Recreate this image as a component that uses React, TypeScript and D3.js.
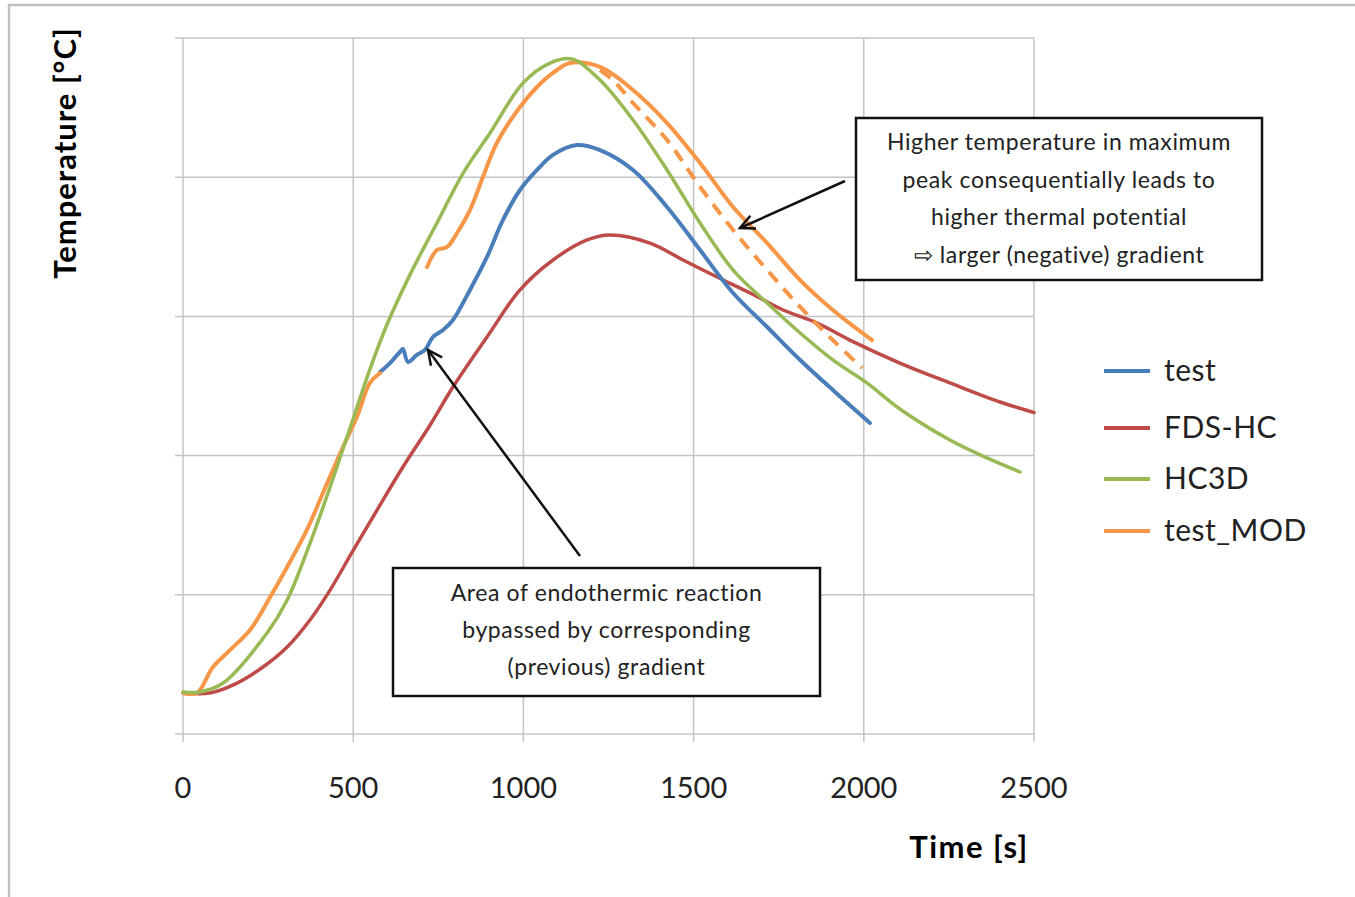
import React, { useEffect, useRef } from "react";
import * as d3 from "d3";

type Pt = [number, number];

// time [s], temperature (no y labels in the source, scale 0-500 assumed)
const testData: Pt[] = [
  [579, 260], [608, 266.5], [637, 274.4], [646, 276.6], [661, 267.2], [687, 272.3],
  [711, 275.9], [734, 285.2], [764, 290.2], [793, 297.4], [843, 319], [893, 342.7],
  [940, 369.3], [990, 390.8], [1040, 405.2], [1087, 416], [1157, 423.1], [1225, 419.5],
  [1322, 405.2], [1422, 378.6], [1519, 347.7], [1616, 316.8], [1716, 292.4],
  [1813, 268.7], [1909, 247.1], [2018, 223.4],
];

const fdsHcData: Pt[] = [
  [0, 29.5], [79, 29.5], [159, 36.6], [235, 48.1], [306, 62.5], [373, 81.9],
  [432, 103.4], [499, 131.5], [570, 160.9], [646, 191.8], [726, 222], [793, 249.3],
  [893, 285.2], [990, 319], [1087, 340.5], [1187, 354.9], [1254, 358.5], [1372, 352.7],
  [1469, 340.5], [1569, 328.3], [1666, 316.8], [1763, 304.6], [1862, 295.3],
  [1959, 283], [2106, 266.5], [2253, 252.2], [2400, 238.5], [2500, 231],
];

const hc3dData: Pt[] = [
  [0, 30.2], [50, 30.2], [118, 36.6], [247, 72.6], [306, 96.3], [373, 137],
  [432, 177.4], [491, 220], [549, 262], [599, 294], [667, 330], [746, 367.1],
  [823, 403], [902, 431.8], [999, 467.7], [1078, 482], [1143, 484.9], [1225, 469.8],
  [1322, 441.1], [1422, 405.2], [1519, 367.1], [1616, 333.3], [1716, 309.6],
  [1813, 288.1], [1909, 268.7], [2009, 252.2], [2106, 233.5], [2253, 211.2],
  [2362, 198.3], [2459, 188.2],
];

const testModEarly: Pt[] = [
  [0, 29.5], [41, 29.5], [88, 48.1], [138, 60.3], [197, 74.7], [256, 98.4],
  [306, 120], [364, 146.6], [411, 173.1], [470, 206.2], [511, 227.7], [549, 252.2],
  [579, 259.3],
];

const testModLate: Pt[] = [
  [717, 335.5], [746, 347.7], [776, 349.9], [805, 359.9], [843, 376.4], [881, 400.1],
  [922, 424.6], [990, 450.4], [1040, 464.8], [1087, 474.9], [1137, 482], [1225, 479.2],
  [1322, 462.6], [1422, 438.9], [1519, 410.2], [1616, 378.6], [1716, 352.7],
  [1813, 326.1], [1909, 304.6], [2024, 283],
];

const testModDashed: Pt[] = [
  [1225, 477], [1263, 469.8], [1322, 453.3], [1422, 426.7], [1519, 393], [1616, 362.1],
  [1716, 333.3], [1813, 306.8], [1909, 283], [1995, 262.9],
];

const xTicks = [0, 500, 1000, 1500, 2000, 2500];
const yTicks = [0, 100, 200, 300, 400, 500];

const seriesNames = ["test", "FDS-HC", "HC3D", "test_MOD"];
const seriesColors = ["#4A7EBB", "#BE4B48", "#98B954", "#F79646"];

const noteHigh = [
  "Higher temperature  in maximum",
  "peak consequentially  leads to",
  "higher thermal potential",
  "\u21E8 larger (negative) gradient",
];
const noteEndo = [
  "Area of endothermic  reaction",
  "bypassed by corresponding",
  "(previous)  gradient",
];

const W = 1355;
const H = 897;
const FONT = "Lato, 'Open Sans', sans-serif";

export default function App() {
  const ref = useRef<SVGSVGElement>(null);

  useEffect(() => {
    const svg = d3.select(ref.current);
    svg.selectAll("*").remove();

    const x = d3.scaleLinear().domain([0, 2500]).range([183, 1034]);
    const y = d3.scaleLinear().domain([0, 500]).range([734, 38]);

    // outer frame (only top/left edges visible)
    svg.append("path")
      .attr("d", "M9,897 V5 H1355")
      .attr("fill", "none")
      .attr("stroke", "#c0c0c0")
      .attr("stroke-width", 2.5);

    const grid = svg.append("g").attr("stroke", "#c4c4c4").attr("stroke-width", 1.5);
    grid.selectAll("line.v")
      .data(xTicks)
      .join("line")
      .attr("x1", (d) => x(d)).attr("x2", (d) => x(d))
      .attr("y1", y(500)).attr("y2", y(0) + 8);
    grid.selectAll("line.h")
      .data(yTicks)
      .join("line")
      .attr("x1", x(0) - 8).attr("x2", x(2500))
      .attr("y1", (d) => y(d)).attr("y2", (d) => y(d));

    svg.append("g")
      .selectAll("text")
      .data(xTicks)
      .join("text")
      .attr("x", (d) => x(d))
      .attr("y", 798)
      .attr("text-anchor", "middle")
      .attr("font-family", FONT)
      .attr("font-size", 29)
      .attr("fill", "#222")
      .text((d) => d);

    const line = d3.line<Pt>()
      .x((d) => x(d[0]))
      .y((d) => y(d[1]))
      .curve(d3.curveCatmullRom.alpha(0.5));

    const draw = (data: Pt[], color: string, width: number, dash?: string) => {
      svg.append("path")
        .datum(data)
        .attr("fill", "none")
        .attr("stroke", color)
        .attr("stroke-width", width)
        .attr("stroke-linecap", dash ? "butt" : "round")
        .attr("stroke-linejoin", "round")
        .attr("stroke-dasharray", dash ?? null)
        .attr("d", line);
    };

    draw(fdsHcData, seriesColors[1], 3.5);
    draw(testData, seriesColors[0], 4);
    draw(testModEarly, seriesColors[3], 4);
    draw(testModLate, seriesColors[3], 4);
    draw(testModDashed, seriesColors[3], 4, "13,9");
    draw(hc3dData, seriesColors[2], 3.5);

    // axis titles
    svg.append("text")
      .attr("transform", "translate(76,153) rotate(-90)")
      .attr("text-anchor", "middle")
      .attr("font-family", FONT)
      .attr("font-weight", "bold")
      .attr("font-size", 31)
      .attr("letter-spacing", 1)
      .text("Temperature [°C]");
    svg.append("text")
      .attr("x", 969)
      .attr("y", 858)
      .attr("text-anchor", "middle")
      .attr("font-family", FONT)
      .attr("font-weight", "bold")
      .attr("font-size", 31)
      .attr("letter-spacing", 1.5)
      .text("Time [s]");

    // legend
    const lg = svg.append("g")
      .selectAll("g")
      .data(seriesNames)
      .join("g")
      .attr("transform", (_, i) => `translate(1104,${[371, 428, 479, 531][i]})`);
    lg.append("line")
      .attr("x1", 0).attr("x2", 46)
      .attr("stroke", (_, i) => seriesColors[i])
      .attr("stroke-width", 4);
    lg.append("text")
      .attr("x", 60)
      .attr("y", 10)
      .attr("font-family", FONT)
      .attr("font-size", 30)
      .attr("letter-spacing", 0.5)
      .attr("fill", "#222")
      .text((d) => d);

    // annotations
    const note = (x0: number, y0: number, w: number, h: number, lines: string[], firstY: number, step: number) => {
      svg.append("rect")
        .attr("x", x0).attr("y", y0).attr("width", w).attr("height", h)
        .attr("fill", "white").attr("stroke", "#111").attr("stroke-width", 2.5);
      svg.append("g")
        .selectAll("text")
        .data(lines)
        .join("text")
        .attr("x", x0 + w / 2)
        .attr("y", (_, i) => firstY + i * step)
        .attr("text-anchor", "middle")
        .attr("font-family", FONT)
        .attr("font-size", 23)
        .attr("letter-spacing", 0.6)
        .attr("fill", "#222")
        .text((d) => d);
    };
    note(856, 118, 406, 162, noteHigh, 150, 37.5);
    note(393, 568, 427, 128, noteEndo, 601, 37);

    const arrow = (x1: number, y1: number, x2: number, y2: number) => {
      svg.append("line")
        .attr("x1", x1).attr("y1", y1).attr("x2", x2).attr("y2", y2)
        .attr("stroke", "#111").attr("stroke-width", 2.5);
      const a = Math.atan2(y2 - y1, x2 - x1);
      const len = 16;
      const spread = 0.45;
      const p1 = [x2 - len * Math.cos(a - spread), y2 - len * Math.sin(a - spread)];
      const p2 = [x2 - len * Math.cos(a + spread), y2 - len * Math.sin(a + spread)];
      svg.append("path")
        .attr("d", `M${p1[0]},${p1[1]} L${x2},${y2} L${p2[0]},${p2[1]}`)
        .attr("fill", "none").attr("stroke", "#111").attr("stroke-width", 2.5);
    };
    arrow(580, 556, 428, 350);
    arrow(845, 181, 740, 228);
  }, []);

  return (
    <div style={{ position: "absolute", left: 0, top: 0, background: "white" }}>
      <svg ref={ref} width={W} height={H} />
    </div>
  );
}
